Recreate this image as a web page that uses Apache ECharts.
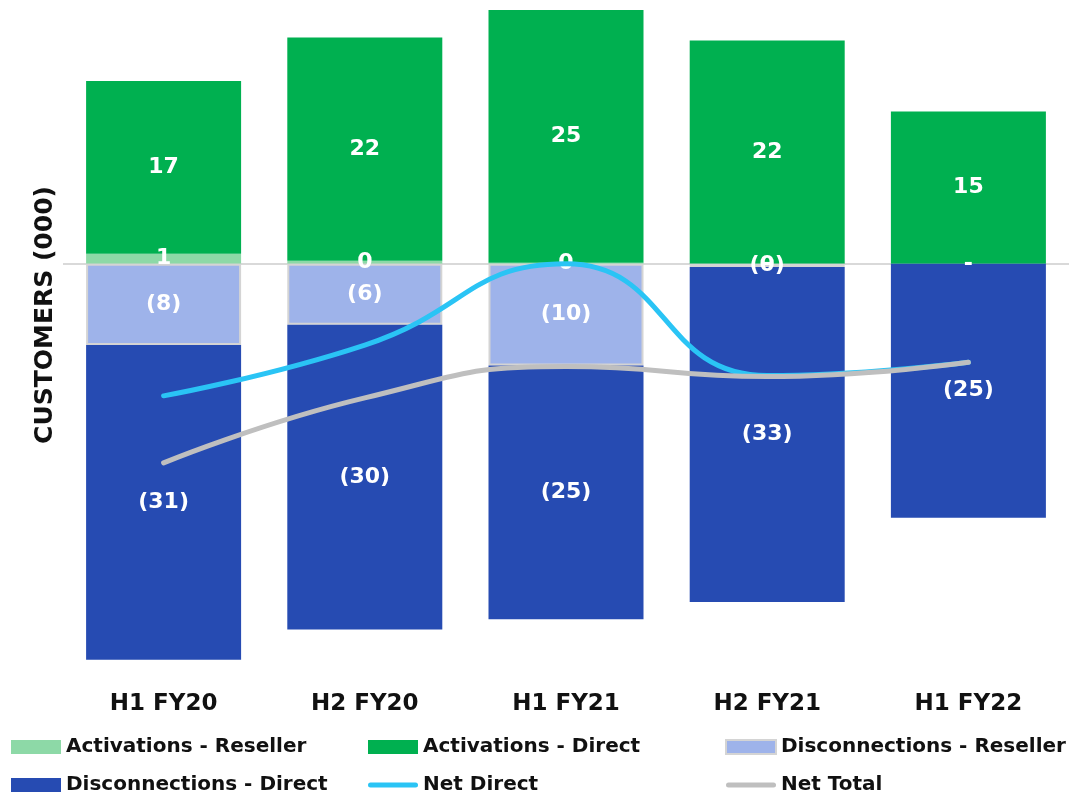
<!DOCTYPE html>
<html>
<head>
<meta charset="utf-8">
<script src="https://cdn.jsdelivr.net/npm/echarts@6/dist/echarts.min.js"></script>
<style>
  html, body { margin: 0; padding: 0; background: #ffffff; }
  #chart { width: 1076px; height: 796px; }
</style>
</head>
<body>
<div id="chart"></div>
<script>
// Half-year periods
var categories = ['H1 FY20', 'H2 FY20', 'H1 FY21', 'H2 FY21', 'H1 FY22'];

// Customer movements, thousands (null = no entry for the period)
var activationsReseller = [1, 0.3, 0.1, 0, 0];
var activationsDirect = [17, 22, 25, 22, 15];
var disconnectionsReseller = [-8, -6, -10, -0.3, null];
var disconnectionsDirect = [-31, -30, -25, -33, -25];

// Net movement lines
var netDirect = [-13, -8, 0, -11, -9.7];
var netTotal = [-19.6, -13.2, -10.1, -11.1, -9.7];

var FONT = '"DejaVu Sans"';

// Accounting style: negatives in brackets, exact zero as a dash
function fmt(v) {
  if (v === 0) return '-';
  var r = Math.round(Math.abs(v));
  return v < 0 ? '(' + r + ')' : String(r);
}

var barLabel = {
  show: true,
  position: 'inside',
  color: '#ffffff',
  fontFamily: FONT,
  fontWeight: 'bold',
  fontSize: 22,
  formatter: function (p) { return fmt(p.value); }
};

function barSeries(name, data, color, extra) {
  return {
    name: name,
    type: 'bar',
    stack: 'movements',
    data: data,
    barWidth: 155,
    itemStyle: Object.assign({ color: color }, extra || {}),
    label: barLabel,
    emphasis: { disabled: true }
  };
}

// Thick rounded stroke used as the legend icon of the line series
var LINE_ICON = 'path://M2.5,0 L47.5,0 A2.5,2.5 0 0 1 47.5,5 L2.5,5 A2.5,2.5 0 0 1 2.5,0 Z';

var legendText = { color: '#111111', fontFamily: FONT, fontWeight: 'bold', fontSize: 20, lineHeight: 22 };
function legendCol(left, items) {
  return {
    orient: 'vertical',
    left: left,
    top: 736,
    padding: 0,
    height: 70,
    icon: 'rect',
    itemWidth: 50,
    itemHeight: 14,
    itemGap: 16,
    textStyle: legendText,
    data: items
  };
}

var chart = echarts.init(document.getElementById('chart'), null, { renderer: 'canvas' });

chart.setOption({
  animation: false,
  backgroundColor: '#ffffff',
  grid: { left: 63, right: 7, top: 10, bottom: 126 },
  legend: [
    legendCol(11, ['Activations - Reseller', 'Disconnections - Direct']),
    legendCol(368, ['Activations - Direct', { name: 'Net Direct', icon: LINE_ICON }]),
    legendCol(725, ['Disconnections - Reseller', { name: 'Net Total', icon: LINE_ICON }])
  ],
  graphic: [{
    type: 'text',
    x: 45,
    y: 315,
    rotation: Math.PI / 2,
    style: {
      text: 'CUSTOMERS (000)',
      fill: '#111111',
      font: 'bold 25px ' + FONT,
      textAlign: 'center',
      textVerticalAlign: 'middle'
    }
  }],
  xAxis: {
    type: 'category',
    data: categories,
    axisLine: { show: false },
    axisTick: { show: false },
    axisLabel: {
      margin: 23,
      color: '#111111',
      fontFamily: FONT,
      fontWeight: 'bold',
      fontSize: 23
    }
  },
  yAxis: {
    type: 'value',
    min: -40,
    max: 25,
    show: false,
    splitLine: { show: false }
  },
  series: [
    barSeries('Activations - Reseller', activationsReseller, '#8dd9a7'),
    barSeries('Activations - Direct', activationsDirect, '#00b050'),
    barSeries('Disconnections - Reseller', disconnectionsReseller, '#9eb3ea',
      { borderColor: '#d4d4d4', borderWidth: 2 }),
    Object.assign(barSeries('Disconnections - Direct', disconnectionsDirect, '#264bb2'), {
      markLine: {
        silent: true,
        symbol: 'none',
        label: { show: false },
        lineStyle: { color: '#d9d9d9', width: 2, type: 'solid' },
        data: [{ yAxis: 0 }],
        z: 1
      }
    }),
    {
      name: 'Net Direct',
      type: 'line',
      data: netDirect,
      smooth: true,
      symbol: 'none',
      z: 5,
      lineStyle: { color: '#2ac4f5', width: 5, cap: 'round' },
      itemStyle: { color: '#2ac4f5' },
      emphasis: { disabled: true }
    },
    {
      name: 'Net Total',
      type: 'line',
      data: netTotal,
      smooth: true,
      symbol: 'none',
      z: 6,
      lineStyle: { color: '#bfbfbf', width: 5, cap: 'round' },
      itemStyle: { color: '#bfbfbf' },
      emphasis: { disabled: true }
    }
  ]
});
</script>
</body>
</html>
